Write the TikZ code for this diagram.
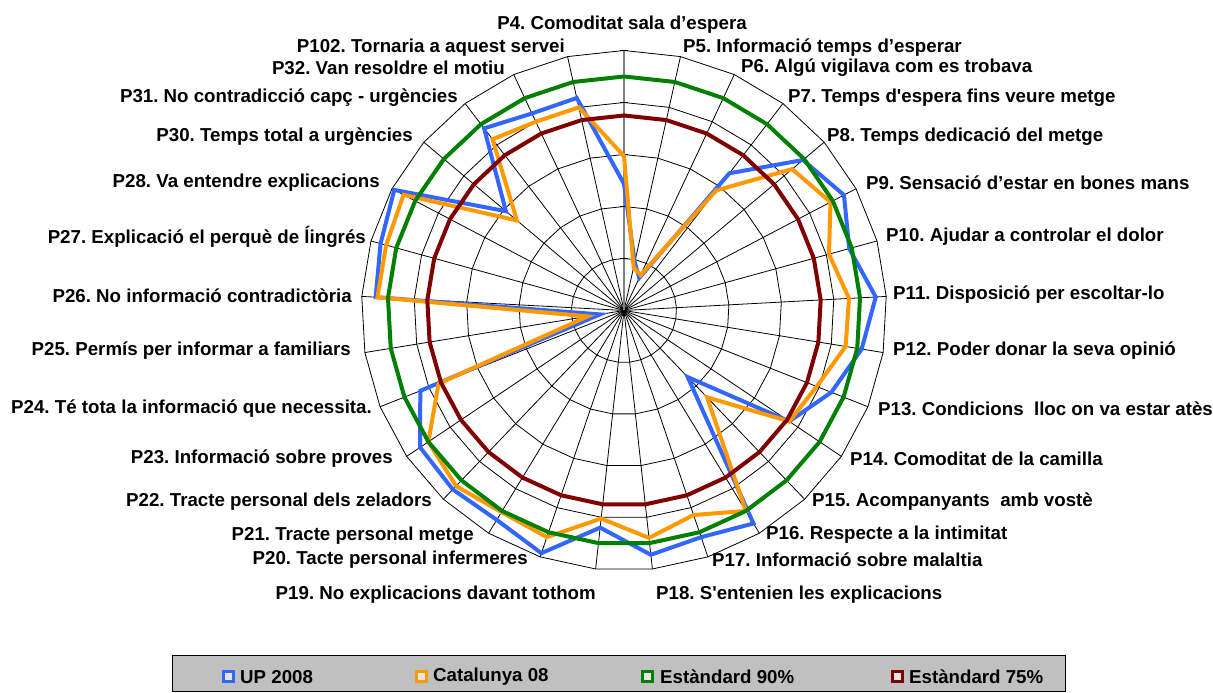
\documentclass[tikz,border=0pt]{standalone}
\usepackage{fontspec}
\setmainfont{Liberation Sans}[Ligatures=TeXOff]
\definecolor{cBlue}{RGB}{51,102,255}
\definecolor{cOrange}{RGB}{255,153,0}
\definecolor{cGreen}{RGB}{0,128,0}
\definecolor{cRed}{RGB}{128,0,0}
\definecolor{cLegend}{RGB}{192,192,192}
\begin{document}
\frenchspacing
\begin{tikzpicture}[x=1pt,y=1pt,
  lab/.style={font=\fontsize{18.7}{21}\selectfont\bfseries\frenchspacing, inner sep=0pt},
  gridline/.style={black, line width=0.8pt},
  series/.style={line width=4pt, line join=miter},
  legsq/.style={line width=3pt, fill=cLegend!40!white, minimum size=10pt, inner sep=0pt},
]
\useasboundingbox (0,0) rectangle (1213,693);
\begin{scope}[shift={(624,382.5)}, xscale=1.01]
  \coordinate (c) at (0,0);
  \foreach \i in {0,...,28} { \coordinate (o\i) at ({90-\i*360/29}:260); }
  % rings
  \foreach \k in {1,...,5} {
    \draw[gridline] ({90}:{\k*52}) \foreach \i in {1,...,28} { -- ({90-\i*360/29}:{\k*52}) } -- cycle;
  }
  % spokes
  \foreach \i in {1,...,28} { \draw[gridline] (c) -- (o\i); }
  \draw[gray, line width=1.4pt] (c) -- (o0);
  \foreach \k in {1,...,5} { \draw[gridline] (-4,{\k*52}) -- (4,{\k*52}); }
  % series data
  \foreach \v [count=\i from 0] in {0.487,0.19,0.138,0.663,0.894,0.948,0.89,0.96,0.917,0.85,0.76,0.353,0.956,0.92,0.945,0.84,0.985,0.94,0.948,0.938,0.835,0.093,0.947,0.962,0.99,0.59,0.88,0.835,0.837}
    { \coordinate (b\i) at ({90-\i*360/29}:{\v*260}); }
  \foreach \v [count=\i from 0] in {0.594,0.17,0.15,0.58,0.84,0.89,0.81,0.858,0.855,0.79,0.76,0.46,0.90,0.83,0.88,0.805,0.92,0.905,0.93,0.90,0.76,0.14,0.94,0.94,0.95,0.535,0.827,0.80,0.80}
    { \coordinate (r\i) at ({90-\i*360/29}:{\v*260}); }
  \foreach \i in {0,...,28} {
    \coordinate (g\i) at ({90-\i*360/29}:{0.9*260});
    \coordinate (d\i) at ({90-\i*360/29}:{0.75*260});
  }
  \draw[series, cBlue] (b0) \foreach \i in {1,...,28} { -- (b\i) } -- cycle;
  \draw[series, cOrange] (r0) \foreach \i in {1,...,28} { -- (r\i) } -- cycle;
  \draw[series, cGreen] (g0) \foreach \i in {1,...,28} { -- (g\i) } -- cycle;
  \draw[series, cRed] (d0) \foreach \i in {1,...,28} { -- (d\i) } -- cycle;
\end{scope}
% labels (image y -> 693 - y)
\node[lab] (l4) at (622,668) {P4. Comoditat sala d’espera};
\node[lab, anchor=west] (l5) at (683,645) {P5. Informació temps d’esperar};
\node[lab, anchor=west] (l6) at (741,625) {P6. Algú vigilava com es trobava};
\node[lab, anchor=west] (l7) at (788,595) {P7. Temps d'espera fins veure metge};
\node[lab, anchor=west] (l8) at (827,556) {P8. Temps dedicació del metge};
\node[lab, anchor=west] (l9) at (866,510) {P9. Sensació d’estar en bones mans};
\node[lab, anchor=west] (l10) at (886,456) {P10. Ajudar a controlar el dolor};
\node[lab, anchor=west] (l11) at (893,398) {P11. Disposició per escoltar-lo};
\node[lab, anchor=west] (l12) at (893,342) {P12. Poder donar la seva opinió};
\node[lab, anchor=west] (l13) at (878,284) {P13. Condicions\ \ lloc on va estar atès};
\node[lab, anchor=west] (l14) at (850,234) {P14. Comoditat de la camilla};
\node[lab, anchor=west] (l15) at (812,191) {P15. Acompanyants\ \ amb vostè};
\node[lab, anchor=west] (l16) at (766,158) {P16. Respecte a la intimitat};
\node[lab, anchor=west] (l17) at (712,133) {P17. Informació sobre malaltia};
\node[lab, anchor=west] (l18) at (656,98) {P18. S'entenien les explicacions};
\node[lab, anchor=east] (l19) at (596,98) {P19. No explicacions davant tothom};
\node[lab, anchor=east] (l20) at (528,133) {P20. Tacte personal infermeres};
\node[lab, anchor=east] (l21) at (474,157) {P21. Tracte personal metge};
\node[lab, anchor=east] (l22) at (432,191) {P22. Tracte personal dels zeladors};
\node[lab, anchor=east] (l23) at (393,234) {P23. Informació sobre proves};
\node[lab, anchor=east] (l24) at (372,284) {P24. Té tota la informació que necessita.};
\node[lab, anchor=east] (l25) at (351,342) {P25. Permís per informar a familiars};
\node[lab, anchor=east] (l26) at (352,397) {P26. No informació contradictòria};
\node[lab, anchor=east] (l27) at (366,456) {P27. Explicació el perquè de ĺingrés};
\node[lab, anchor=east] (l28) at (380,510) {P28. Va entendre explicacions};
\node[lab, anchor=east] (l30) at (413,556) {P30. Temps total a urgències};
\node[lab, anchor=east] (l31) at (458,595) {P31. No contradicció capç - urgències};
\node[lab, anchor=east] (l32) at (505,625) {P32. Van resoldre el motiu};
\node[lab, anchor=east] (l102) at (565,645) {P102. Tornaria a aquest servei};
% legend
\draw[black, line width=0.8pt, fill=cLegend] (172,2) rectangle (1065,38);
\node[legsq, draw=cBlue] (s1) at (228,16) {};
\node[lab, anchor=west] (t1) at (240,16) {UP 2008};
\node[legsq, draw=cOrange] (s2) at (421,16) {};
\node[lab, anchor=west] (t2) at (433,16) {Catalunya 08};
\node[legsq, draw=cGreen] (s3) at (647,16) {};
\node[lab, anchor=west] (t3) at (660,16) {Estàndard 90\%};
\node[legsq, draw=cRed] (s4) at (897,16) {};
\node[lab, anchor=west] (t4) at (909,16) {Estàndard 75\%};
\end{tikzpicture}
\end{document}
